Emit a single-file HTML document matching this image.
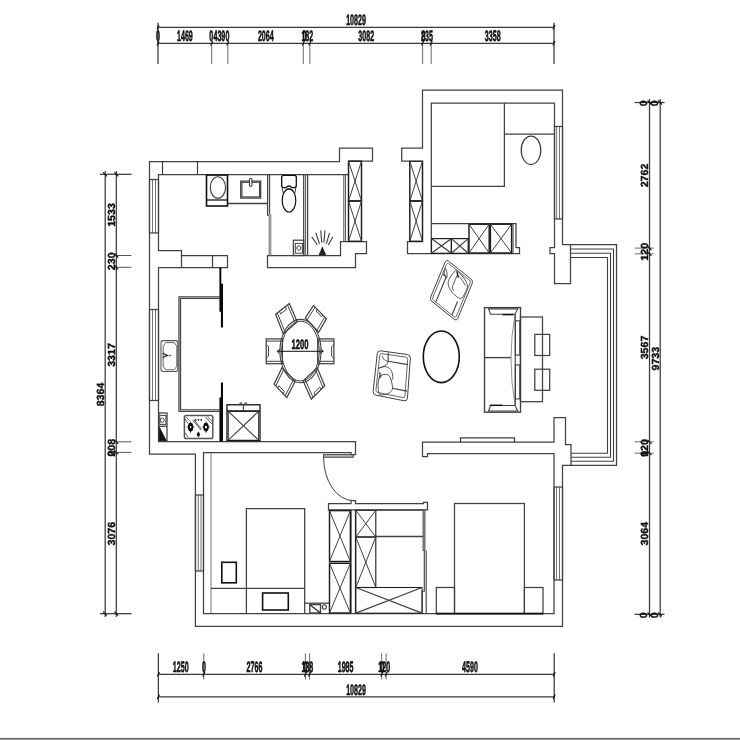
<!DOCTYPE html>
<html lang="zh">
<head>
<meta charset="utf-8">
<title>Floor plan</title>
<style>
html,body{margin:0;padding:0;background:#fff;}
body{width:740px;height:740px;overflow:hidden;position:relative;-webkit-font-smoothing:antialiased;}
svg{display:block;will-change:transform;filter:blur(0.35px);}
svg text{text-rendering:geometricPrecision;}
svg path, svg rect, svg ellipse{shape-rendering:geometricPrecision;}
.b1,.b2,.b3{position:absolute;left:0;width:740px;height:1px;}
.b1{top:737px;background:#ececec;}.b2{top:738px;background:#707070;}.b3{top:739px;background:#9a9a9a;}
</style>
</head>
<body>
<svg width="740" height="740" viewBox="0 0 740 740" font-family="'Liberation Sans', sans-serif" fill="#111" stroke-linecap="butt" stroke-linejoin="miter">
<rect x="0" y="0" width="740" height="740" fill="#ffffff" stroke="none"/>
<g fill="none">
<path d="M348.5 161 L372.5 161 L372.5 148 L339.5 148 L339.5 161.5 L149.5 161.5 L149.5 454 L195.4 454 L195.4 626.4 L562.5 626.4 L562.5 465.4 L616.5 465.4 L616.5 244.5 L562.5 244.5 L562.5 90 L422.5 90 L422.5 148 L401.7 148 L401.7 161 L409.5 161" fill="none" stroke="#404040" stroke-width="1.25"/>
<path d="M162.5 161.5 L162.5 174.5" stroke="#404040" stroke-width="1.25"/>
<path d="M197.5 161.5 L197.5 174.5" stroke="#404040" stroke-width="1.25"/>
<path d="M348.5 174.5 L158.5 174.5 L158.5 250.5 L181.5 250.5 L181.5 255.5 L227.5 255.5 L227.5 267.5 L158.5 267.5 L158.5 441.5 L355.5 441.5 L355.5 454.5 L351 454.5 L351 452.5 L203.5 452.5 L203.5 613.5 L554 613.5 L554 453.5 L427.5 453.5 L427.5 456.5 L422.5 456.5 L422.5 442 L554 442 L554 417.5 L565.5 417.5 L565.5 444.5 L571 444.5 L571 465.4" fill="none" stroke="#404040" stroke-width="1.25"/>
<path d="M181.5 255.5 L181.5 267.5" stroke="#404040" stroke-width="1.25"/>
<path d="M212.5 255.5 L212.5 267.5" stroke="#404040" stroke-width="1.25"/>
<path d="M149.5 179.5 L149.5 233" stroke="#404040" stroke-width="1.25"/>
<path d="M152.5 179.5 L152.5 233" stroke="#707070" stroke-width="1"/>
<path d="M155.5 179.5 L155.5 233" stroke="#707070" stroke-width="1"/>
<path d="M158.5 179.5 L158.5 233" stroke="#404040" stroke-width="1.25"/>
<path d="M149.5 179.5 L158.5 179.5" stroke="#404040" stroke-width="1.25"/>
<path d="M149.5 233 L158.5 233" stroke="#404040" stroke-width="1.25"/>
<path d="M149.5 309.5 L149.5 400.5" stroke="#404040" stroke-width="1.25"/>
<path d="M152.5 309.5 L152.5 400.5" stroke="#707070" stroke-width="1"/>
<path d="M155.5 309.5 L155.5 400.5" stroke="#707070" stroke-width="1"/>
<path d="M158.5 309.5 L158.5 400.5" stroke="#404040" stroke-width="1.25"/>
<path d="M149.5 309.5 L158.5 309.5" stroke="#404040" stroke-width="1.25"/>
<path d="M149.5 400.5 L158.5 400.5" stroke="#404040" stroke-width="1.25"/>
<path d="M195.5 495 L195.5 571" stroke="#404040" stroke-width="1.25"/>
<path d="M198.3 495 L198.3 571" stroke="#707070" stroke-width="1"/>
<path d="M201 495 L201 571" stroke="#707070" stroke-width="1"/>
<path d="M203.5 495 L203.5 571" stroke="#404040" stroke-width="1.25"/>
<path d="M195.5 495 L203.5 495" stroke="#404040" stroke-width="1.25"/>
<path d="M195.5 571 L203.5 571" stroke="#404040" stroke-width="1.25"/>
<path d="M211 452.5 L211 613.5" stroke="#666" stroke-width="0.9"/>
<path d="M267.5 255.5 L340.5 255.5 L340.5 241.5 L366.5 241.5 L366.5 253.5 L355.5 253.5 L355.5 267.5 L267.5 267.5 Z" fill="none" stroke="#404040" stroke-width="1.25"/>
<path d="M422.5 241.5 L407.5 241.5 L407.5 253.5 L519.5 253.5 L519.5 247.5 L516 247.5 L516 223.5 L431.5 223.5" fill="none" stroke="#404040" stroke-width="1.25"/>
<path d="M431.3 253.5 L431.3 103 L554.5 103 L554.5 247.5 L550 247.5 L550 253.5 L554.5 253.5 L554.5 283.5 L570.5 283.5 L570.5 244.5" fill="none" stroke="#404040" stroke-width="1.25"/>
<path d="M554.5 126.5 L554.5 219" stroke="#404040" stroke-width="1.25"/>
<path d="M556.7 126.5 L556.7 219" stroke="#707070" stroke-width="1"/>
<path d="M559.5 126.5 L559.5 219" stroke="#707070" stroke-width="1"/>
<path d="M562.5 126.5 L562.5 219" stroke="#404040" stroke-width="1.25"/>
<path d="M554.5 126.5 L562.5 126.5" stroke="#404040" stroke-width="1.25"/>
<path d="M554.5 219 L562.5 219" stroke="#404040" stroke-width="1.25"/>
<path d="M570.5 249 L613.5 249 L613.5 461.3 L571 461.3" fill="none" stroke="#404040" stroke-width="1.12"/>
<path d="M570.5 253.2 L610.5 253.2 L610.5 457.2 L571 457.2" fill="none" stroke="#404040" stroke-width="1.12"/>
<path d="M570.5 257.5 L607.5 257.5 L607.5 453.2 L571 453.2" fill="none" stroke="#404040" stroke-width="1.12"/>
<path d="M460.5 442 L460.5 437.8 L514.5 437.8 L514.5 442" fill="none" stroke="#404040" stroke-width="1.25"/>
<path d="M554 487 L554 580" stroke="#404040" stroke-width="1.25"/>
<path d="M556.6 487 L556.6 580" stroke="#707070" stroke-width="1"/>
<path d="M559.5 487 L559.5 580" stroke="#707070" stroke-width="1"/>
<path d="M562.5 487 L562.5 580" stroke="#404040" stroke-width="1.25"/>
<path d="M554 487 L562.5 487" stroke="#404040" stroke-width="1.25"/>
<path d="M554 580 L562.5 580" stroke="#404040" stroke-width="1.25"/>
<path d="M328.5 503.5 L351 503.5 L351 500.5 L355.5 500.5 L355.5 503.5 L423.5 503.5 L423.5 502.3 L427.5 502.3 L427.5 509.8 L328.5 509.8 Z" fill="none" stroke="#404040" stroke-width="1.25"/>
<path d="M351 509.8 L351 613.5" stroke="#404040" stroke-width="1.25"/>
<path d="M355.5 509.8 L355.5 613.5" stroke="#404040" stroke-width="1.25"/>
</g>
<rect x="348.5" y="161.2" width="13" height="39.8" fill="none" stroke="#1c1c1c" stroke-width="1.44"/>
<path d="M348.5 161.2 L361.5 201" stroke="#404040" stroke-width="1"/>
<path d="M348.5 201 L361.5 161.2" stroke="#404040" stroke-width="1"/>
<rect x="348.5" y="201" width="13" height="40.3" fill="none" stroke="#1c1c1c" stroke-width="1.44"/>
<path d="M348.5 201 L361.5 241.3" stroke="#404040" stroke-width="1"/>
<path d="M348.5 241.3 L361.5 201" stroke="#404040" stroke-width="1"/>
<rect x="409.8" y="161.2" width="12.7" height="39.8" fill="none" stroke="#1c1c1c" stroke-width="1.44"/>
<path d="M409.8 161.2 L422.5 201" stroke="#404040" stroke-width="1"/>
<path d="M409.8 201 L422.5 161.2" stroke="#404040" stroke-width="1"/>
<rect x="409.8" y="201" width="12.7" height="40.3" fill="none" stroke="#1c1c1c" stroke-width="1.44"/>
<path d="M409.8 201 L422.5 241.3" stroke="#404040" stroke-width="1"/>
<path d="M409.8 241.3 L422.5 201" stroke="#404040" stroke-width="1"/>
<path d="M343.6 174.5 L343.6 241.5" stroke="#666" stroke-width="0.9"/>
<path d="M345.3 174.5 L345.3 241.5" stroke="#404040" stroke-width="1.12"/>
<rect x="431.5" y="238.6" width="19.9" height="14.7" fill="none" stroke="#1c1c1c" stroke-width="1.17"/>
<path d="M431.5 238.6 L451.4 253.3" stroke="#404040" stroke-width="1.25"/>
<path d="M431.5 253.3 L451.4 238.6" stroke="#404040" stroke-width="1.25"/>
<rect x="451.4" y="238.6" width="16.8" height="14.7" fill="none" stroke="#1c1c1c" stroke-width="1.17"/>
<path d="M451.4 238.6 L468.2 253.3" stroke="#404040" stroke-width="1.25"/>
<path d="M451.4 253.3 L468.2 238.6" stroke="#404040" stroke-width="1.25"/>
<rect x="469" y="224.2" width="20.2" height="28.8" fill="none" stroke="#1c1c1c" stroke-width="1.44"/>
<path d="M469 224.2 L489.2 253" stroke="#404040" stroke-width="1"/>
<path d="M469 253 L489.2 224.2" stroke="#404040" stroke-width="1"/>
<rect x="490.4" y="224.2" width="21.2" height="28.8" fill="none" stroke="#1c1c1c" stroke-width="1.44"/>
<path d="M490.4 224.2 L511.6 253" stroke="#404040" stroke-width="1"/>
<path d="M490.4 253 L511.6 224.2" stroke="#404040" stroke-width="1"/>
<path d="M513 223.5 L513 253.5" stroke="#404040" stroke-width="1"/>
<rect x="329.5" y="510.6" width="20.9" height="50.9" fill="none" stroke="#1c1c1c" stroke-width="1.44"/>
<path d="M329.5 510.6 L350.4 561.5" stroke="#404040" stroke-width="1"/>
<path d="M329.5 561.5 L350.4 510.6" stroke="#404040" stroke-width="1"/>
<rect x="329.5" y="563.3" width="20.9" height="49.7" fill="none" stroke="#1c1c1c" stroke-width="1.44"/>
<path d="M329.5 563.3 L350.4 613" stroke="#404040" stroke-width="1"/>
<path d="M329.5 613 L350.4 563.3" stroke="#404040" stroke-width="1"/>
<rect x="355.8" y="510.3" width="20" height="26.7" fill="none" stroke="#1c1c1c" stroke-width="1.08"/>
<path d="M355.8 510.3 L375.8 537" stroke="#404040" stroke-width="1"/>
<path d="M355.8 537 L375.8 510.3" stroke="#404040" stroke-width="1"/>
<rect x="355.8" y="537" width="20" height="50.5" fill="none" stroke="#1c1c1c" stroke-width="1.08"/>
<path d="M355.8 537 L375.8 587.5" stroke="#404040" stroke-width="1"/>
<path d="M355.8 587.5 L375.8 537" stroke="#404040" stroke-width="1"/>
<rect x="355.8" y="587.5" width="66.2" height="25.7" fill="none" stroke="#1c1c1c" stroke-width="1.08"/>
<path d="M355.8 587.5 L422 613.2" stroke="#404040" stroke-width="1.25"/>
<path d="M355.8 613.2 L422 587.5" stroke="#404040" stroke-width="1.25"/>
<path d="M375.8 536.5 L423 536.5" stroke="#404040" stroke-width="1.5"/>
<path d="M375.8 510 L423 510" stroke="#404040" stroke-width="1.25"/>
<rect x="423" y="509.8" width="2" height="40.7" fill="#9a9a9a" stroke="#444" stroke-width="0.8"/>
<path d="M424.3 550.5 L424.3 591.2 L422.4 591.2 L422.4 613.3" fill="none" stroke="#404040" stroke-width="1.12"/>
<path d="M426.2 550.5 L426.2 613.3" fill="none" stroke="#404040" stroke-width="1.12"/>
<g fill="none">
<path d="M431.3 186.3 L504.4 186.3 L504.4 103" fill="none" stroke="#404040" stroke-width="1.25"/>
<path d="M504.4 134.2 L554.5 134.2" stroke="#404040" stroke-width="1.25"/>
<ellipse cx="531" cy="150.2" rx="9.8" ry="14.2" fill="none" stroke="#404040" stroke-width="1.25"/>
<rect x="454.5" y="503.5" width="69.9" height="110" fill="none" stroke="#404040" stroke-width="1.25"/>
<rect x="436.3" y="587.5" width="18.2" height="26" fill="none" stroke="#404040" stroke-width="1.25"/>
<rect x="524.4" y="587.5" width="18.6" height="26" fill="none" stroke="#404040" stroke-width="1.25"/>
<path d="M436 613.6 L543.3 613.6" stroke="#111" stroke-width="1.8"/>
<path d="M246.4 613.5 L246.4 508.6 L304.7 508.6 L304.7 613.5" fill="none" stroke="#404040" stroke-width="1.25"/>
<path d="M211 588.4 L304.7 588.4" stroke="#404040" stroke-width="1.25"/>
<rect x="221.8" y="562.3" width="14.5" height="20.5" fill="none" stroke="#111" stroke-width="1.6"/>
<rect x="262.6" y="593" width="25.7" height="17" fill="none" stroke="#111" stroke-width="1.6"/>
<path d="M304.7 603.2 L329.2 603.2" stroke="#404040" stroke-width="1.25"/>
<rect x="309.8" y="604.6" width="10.7" height="8.4" fill="none" stroke="#444" stroke-width="1.4"/>
<path d="M309.8 604.6 L320.5 613" stroke="#111" stroke-width="1.2"/>
<ellipse cx="324.4" cy="607" rx="2" ry="2.2" fill="none" stroke="#404040" stroke-width="1.12"/>
<rect x="323.6" y="454.7" width="29.6" height="2.5" fill="#d8d8d8" stroke="#404040" stroke-width="1.12"/>
<path d="M323.6 457.2 A29.6 43.4 0 0 0 353.2 500.6" stroke="#404040" stroke-width="1"/>
</g>
<g fill="none">
<rect x="206.5" y="175" width="21" height="31" fill="none" stroke="#111" stroke-width="1.6"/>
<path d="M206.5 200 L227.5 200" stroke="#111" stroke-width="1.3"/>
<ellipse cx="217.9" cy="187.5" rx="7.6" ry="10.8" fill="none" stroke="#404040" stroke-width="1.12"/>
<path d="M227.5 203.4 L267.6 203.4" stroke="#404040" stroke-width="1.5"/>
<rect x="240.7" y="181.1" width="20" height="17" fill="none" stroke="#404040" stroke-width="1.25"/>
<rect x="241.9" y="182.3" width="17.6" height="14.6" fill="none" stroke="#404040" stroke-width="1.12"/>
<rect x="249.5" y="178.2" width="2.4" height="8.3" fill="#fff" stroke="#404040" stroke-width="1.12" rx="1.2"/>
<path d="M267.6 174.5 L267.6 215 L269.2 215" fill="none" stroke="#404040" stroke-width="1.25"/>
<path d="M269.6 174.5 L269.6 214.2" stroke="#404040" stroke-width="1.12"/>
<path d="M269.2 215 L269.2 255.5" stroke="#666" stroke-width="1"/>
<path d="M270.8 214.2 L270.8 255.5" stroke="#777" stroke-width="1"/>
<path d="M283.7 175.3 L294.3 175.3 Q296.3 175.3 296.3 177.3 L296.3 185.6 Q296.3 187.7 294.3 187.7 L292 187.7 Q290.5 186 289 186 Q287.5 186 286 187.7 L283.7 187.7 Q281.7 187.7 281.7 185.6 L281.7 177.3 Q281.7 175.3 283.7 175.3 Z" fill="none" stroke="#111" stroke-width="1.3"/>
<path d="M282.2 187.6 L283.2 193.5" stroke="#404040" stroke-width="1"/>
<path d="M295.8 187.6 L294.8 193.5" stroke="#404040" stroke-width="1"/>
<ellipse cx="289" cy="200.4" rx="6.8" ry="11.6" fill="none" stroke="#111" stroke-width="1.2"/>
<path d="M286.2 190 Q289 188 291.8 190" fill="none" stroke="#111" stroke-width="1.2"/>
<path d="M303.7 174.5 L303.7 255.5" stroke="#404040" stroke-width="1.25"/>
<path d="M305.6 174.5 L305.6 255.5" stroke="#404040" stroke-width="0.88"/>
<path d="M307.6 174.5 L307.6 255.5" stroke="#404040" stroke-width="1.25"/>
<rect x="293.4" y="240.2" width="10.3" height="15.3" fill="none" stroke="#404040" stroke-width="1.25"/>
<rect x="295.3" y="243.4" width="7.1" height="9.8" fill="none" stroke="#404040" stroke-width="1"/>
<ellipse cx="298.8" cy="248" rx="2" ry="2.2" fill="none" stroke="#404040" stroke-width="1"/>
</g>
<path d="M311.8 236.9 L317.4 245" stroke="#404040" stroke-width="1.12"/>
<path d="M315.8 232.8 L319.5 243.9" stroke="#404040" stroke-width="1.12"/>
<path d="M320.7 230.4 L321.8 242.6" stroke="#404040" stroke-width="1.12"/>
<path d="M325 230.4 L323.9 242.6" stroke="#404040" stroke-width="1.12"/>
<path d="M329.6 232.8 L326.3 243.9" stroke="#404040" stroke-width="1.12"/>
<path d="M332.8 236.9 L328.3 245" stroke="#404040" stroke-width="1.12"/>
<path d="M322.4 247 L324.6 252.5 L320.2 252.5 Z" fill="#111" stroke="#111" stroke-width="0.6"/>
<path d="M319.6 252.3 L325.2 252.3 L326 255.2 L318.8 255.2 Z" fill="#222" stroke="none"/>
<g fill="none">
<path d="M219.5 296.8 L179 296.8 L179 411.3 L219.5 411.3" fill="none" stroke="#404040" stroke-width="1.25"/>
<path d="M219.5 298.5 L180.6 298.5 L180.6 409.7 L219.5 409.7" fill="none" stroke="#404040" stroke-width="1.12"/>
<rect x="161" y="340.6" width="16.8" height="30.9" fill="none" stroke="#555" stroke-width="1.1" rx="2.2"/>
<path d="M165.7 342.6 L174.3 342.6 L176.8 346.2 L176.8 366.2 L174.3 369.8 L165.7 369.8 L163.2 366.2 L163.2 346.2 Z" fill="none" stroke="#555" stroke-width="0.9"/>
<path d="M162.6 353.2 L167.6 355.4 L162.6 357.6" fill="none" stroke="#111" stroke-width="1.1"/>
<ellipse cx="170" cy="355.5" rx="0.6" ry="0.7" fill="#555" stroke="#555" stroke-width="0.7"/>
<rect x="184.4" y="415.5" width="28.4" height="23.1" fill="none" stroke="#555" stroke-width="1.5" rx="1.8"/>
</g>
<ellipse cx="190.6" cy="427.1" rx="2.7" ry="4.4" fill="#0a0a0a" stroke="none"/>
<path d="M190.6 420.3 L191.7 427.1 L190.6 433.9 L189.5 427.1 Z" fill="#0a0a0a" stroke="none"/>
<path d="M185.9 427.1 L190.6 426.1 L195.3 427.1 L190.6 428.1 Z" fill="#0a0a0a" stroke="none"/>
<ellipse cx="190.6" cy="427.1" rx="0.8" ry="1.1" fill="#fff" stroke="none"/>
<ellipse cx="206" cy="427.1" rx="2.7" ry="4.4" fill="#0a0a0a" stroke="none"/>
<path d="M206 420.3 L207.1 427.1 L206 433.9 L204.9 427.1 Z" fill="#0a0a0a" stroke="none"/>
<path d="M201.3 427.1 L206 426.1 L210.7 427.1 L206 428.1 Z" fill="#0a0a0a" stroke="none"/>
<ellipse cx="206" cy="427.1" rx="1.04" ry="1.43" fill="#fff" stroke="none"/>
<ellipse cx="198.4" cy="434.5" rx="1.4" ry="2.29" fill="#0a0a0a" stroke="none"/>
<path d="M198.4 430.96 L198.97 434.5 L198.4 438.04 L197.83 434.5 Z" fill="#0a0a0a" stroke="none"/>
<path d="M195.96 434.5 L198.4 433.98 L200.84 434.5 L198.4 435.02 Z" fill="#0a0a0a" stroke="none"/>
<path d="M184.9 418.6 L188.1 423.5" stroke="#333" stroke-width="0.8"/>
<path d="M186 417 L189.5 420.8" stroke="#333" stroke-width="0.8"/>
<path d="M184.9 432.7 L188.1 437" stroke="#333" stroke-width="0.8"/>
<path d="M193 420.3 L200.8 430" stroke="#333" stroke-width="0.8"/>
<path d="M194 419.7 L201.6 429.3" stroke="#333" stroke-width="0.8"/>
<path d="M205.4 417 L211.9 424" stroke="#333" stroke-width="0.8"/>
<path d="M207.6 417 L212.4 421.6" stroke="#333" stroke-width="0.8"/>
<ellipse cx="195.7" cy="419.9" rx="0.5" ry="0.6" fill="#111" stroke="#111" stroke-width="0.7"/>
<ellipse cx="198.4" cy="419.9" rx="0.5" ry="0.6" fill="#111" stroke="#111" stroke-width="0.7"/>
<ellipse cx="201.2" cy="419.9" rx="0.5" ry="0.6" fill="#111" stroke="#111" stroke-width="0.7"/>
<g fill="none">
<rect x="158.8" y="413" width="8.2" height="28" fill="none" stroke="#404040" stroke-width="1.25"/>
<rect x="159.8" y="415.4" width="6.1" height="9" fill="none" stroke="#404040" stroke-width="1"/>
<ellipse cx="162.3" cy="420.2" rx="1.9" ry="2.2" fill="none" stroke="#404040" stroke-width="1"/>
<path d="M158.8 426.3 L167 426.3" stroke="#404040" stroke-width="1.25"/>
</g>
<path d="M159.4 427.4 L159.4 440.4 L166.2 440.4 Z" fill="#111" stroke="#111" stroke-width="0.8"/>
<g fill="#0a0a0a" stroke="none">
<rect x="219.4" y="267.5" width="1.9" height="44.3"/>
<rect x="220.9" y="283.7" width="2.1" height="43.8"/>
<rect x="220.9" y="382.5" width="2.1" height="59"/>
<rect x="219.4" y="397.5" width="1.9" height="44"/>
</g>
<g fill="none">
<rect x="227" y="404.8" width="33" height="35.8" fill="none" stroke="#111" stroke-width="1.3"/>
<path d="M227 411 L260 411" stroke="#111" stroke-width="1.3"/>
<path d="M243.4 404.8 L243.4 411" stroke="#404040" stroke-width="1.12"/>
<rect x="228.3" y="411.4" width="30.3" height="28.8" fill="none" stroke="#1c1c1c" stroke-width="0.81"/>
<path d="M228.3 411.4 L258.6 440.2" stroke="#404040" stroke-width="1.12"/>
<path d="M228.3 440.2 L258.6 411.4" stroke="#404040" stroke-width="1.12"/>
<path d="M240 404.8 L240 402.9 L241.6 402.9 L241.6 404.8" fill="none" stroke="#404040" stroke-width="1"/>
<path d="M244.9 404.8 L244.9 402.9 L246.5 402.9 L246.5 404.8" fill="none" stroke="#404040" stroke-width="1"/>
</g>
<g fill="none">
<rect x="266.2" y="338.9" width="16.2" height="24.8" fill="none" stroke="#404040" stroke-width="1.25"/>
<path d="M266.2 341.1 L282.4 341.1" stroke="#404040" stroke-width="1"/>
<path d="M266.2 361.3 L282.4 361.3" stroke="#404040" stroke-width="1"/>
<path d="M266.2 344.5 L268.5 346.5 L268.5 356.2 L266.2 358.2" fill="none" stroke="#404040" stroke-width="1"/>
<rect x="317.7" y="338.9" width="16.2" height="24.8" fill="none" stroke="#404040" stroke-width="1.25"/>
<path d="M317.7 341.1 L333.9 341.1" stroke="#404040" stroke-width="1"/>
<path d="M317.7 361.3 L333.9 361.3" stroke="#404040" stroke-width="1"/>
<path d="M333.9 344.5 L331.6 346.5 L331.6 356.2 L333.9 358.2" fill="none" stroke="#404040" stroke-width="1"/>
<path d="M275.6 314.3 L289.3 303.6 L297.2 321.8 L283.3 333.9 Z" fill="none" stroke="#404040" stroke-width="1.25"/>
<path d="M277.38 312.91 L285.11 332.33" fill="none" stroke="#404040" stroke-width="1"/>
<path d="M287.52 304.99 L295.39 323.37" fill="none" stroke="#404040" stroke-width="1"/>
<path d="M279.44 311.3 L280.68 313.86 L286.41 309.33 L285.46 306.6" fill="none" stroke="#404040" stroke-width="1"/>
<path d="M313.5 305.4 L326.4 318.8 L318.7 332.2 L305.3 318 Z" fill="none" stroke="#404040" stroke-width="1.25"/>
<path d="M315.18 307.14 L307.04 319.85" fill="none" stroke="#404040" stroke-width="1"/>
<path d="M324.72 317.06 L316.96 330.35" fill="none" stroke="#404040" stroke-width="1"/>
<path d="M317.11 309.15 L316.13 311.11 L321.54 316.73 L322.79 315.05" fill="none" stroke="#404040" stroke-width="1"/>
<path d="M286.8 397.6 L274.1 384.2 L281.9 367.8 L295.2 381.2 Z" fill="none" stroke="#404040" stroke-width="1.25"/>
<path d="M285.15 395.86 L293.47 379.46" fill="none" stroke="#404040" stroke-width="1"/>
<path d="M275.75 385.94 L283.63 369.54" fill="none" stroke="#404040" stroke-width="1"/>
<path d="M283.24 393.85 L284.25 391.4 L278.92 385.81 L277.66 387.95" fill="none" stroke="#404040" stroke-width="1"/>
<path d="M324.7 385.7 L311.3 399.1 L303.1 380.9 L317.2 367.8 Z" fill="none" stroke="#404040" stroke-width="1.25"/>
<path d="M322.96 387.44 L315.37 369.5" fill="none" stroke="#404040" stroke-width="1"/>
<path d="M313.04 397.36 L304.93 379.2" fill="none" stroke="#404040" stroke-width="1"/>
<path d="M320.95 389.45 L319.71 387.08 L314.09 392.67 L315.05 395.35" fill="none" stroke="#404040" stroke-width="1"/>
<ellipse cx="300.5" cy="351.1" rx="20.6" ry="31.7" fill="none" stroke="#404040" stroke-width="1.12"/>
<ellipse cx="300.5" cy="351.1" rx="18.8" ry="29.9" fill="none" stroke="#404040" stroke-width="1"/>
<path d="M277.2 351.3 L323.2 351.3" stroke="#111" stroke-width="1"/>
</g>
<path d="M277.2 351.3 l3 -2.2 M277.2 351.3 l2.2 2.6 M323.2 351.3 l-3 2.2 M323.2 351.3 l-2.2 -2.6" stroke="#111" stroke-width="0.9" fill="none"/>
<text transform="translate(299.9 348.8) skewX(0) scale(0.56 1)" font-size="13.6" text-anchor="middle" font-weight="bold" stroke="#111" stroke-width="0.6" vector-effect="non-scaling-stroke" paint-order="stroke">1200</text>
<g fill="none">
<rect x="484.5" y="307.6" width="36" height="104.6" fill="none" stroke="#404040" stroke-width="1.38"/>
<path d="M488.5 308.9 L517.7 308.9 L515 314.3 L490.6 314.3 Z" fill="none" stroke="#404040" stroke-width="1.12"/>
<path d="M488.5 411 L517.7 411 L515 405.5 L490.6 405.5 Z" fill="none" stroke="#404040" stroke-width="1.12"/>
<path d="M502.5 314.6 L513.5 314.6" stroke="#111" stroke-width="1.5"/>
<path d="M489.8 405.3 L502.5 405.3" stroke="#111" stroke-width="1.5"/>
<path d="M484.5 357.6 L511.2 357.6" stroke="#404040" stroke-width="1.38"/>
<path d="M515 314.3 Q507 357.6 515 405.5" stroke="#777" stroke-width="0.8"/>
<path d="M515.3 314.3 L515.3 405.5" stroke="#404040" stroke-width="1.12"/>
<rect x="515.3" y="320.8" width="4.5" height="34.3" fill="none" stroke="#404040" stroke-width="1.12"/>
<rect x="515.3" y="364.9" width="4.5" height="34" fill="none" stroke="#404040" stroke-width="1.12"/>
<rect x="520.5" y="317" width="22" height="84.7" fill="none" stroke="#404040" stroke-width="1.25"/>
<rect x="534.8" y="334.4" width="14.9" height="21.1" fill="none" stroke="#404040" stroke-width="1.25"/>
<rect x="534.8" y="369.2" width="14.9" height="21.1" fill="none" stroke="#404040" stroke-width="1.25"/>
<ellipse cx="441.3" cy="356.8" rx="18" ry="25.8" fill="none" stroke="#111" stroke-width="1.6"/>
</g>
<g fill="none" stroke-linejoin="round">
<path d="M445.15 262.07 Q446.3 259.3 448.64 261.17 L470.96 279.03 Q473.3 280.9 472.15 283.67 L457.75 318.43 Q456.6 321.2 454.26 319.33 L431.94 301.47 Q429.6 299.6 430.75 296.83 Z" fill="none" stroke="#404040" stroke-width="1"/>
<path d="M446.54 264.37 Q447.3 262.52 448.87 263.77 L469.23 280.06 Q470.79 281.31 470.03 283.16 L456.36 316.13 Q455.6 317.98 454.03 316.73 L433.67 300.44 Q432.11 299.19 432.87 297.34 Z" fill="none" stroke="#404040" stroke-width="0.8"/>
<path d="M442.54 274 L446.19 276.92 L435.75 302.11" fill="none" stroke="#404040" stroke-width="1.12"/>
<path d="M457.55 301.57 L451.95 315.07" fill="none" stroke="#404040" stroke-width="1.12"/>
</g>
<path d="M455.7 270.5 C454.43 271.58 450.93 275.75 449.7 278.1 C448.47 280.45 447.85 282.17 448.3 284.6 C448.75 287.03 450.37 290.37 452.4 292.7 C454.43 295.03 458.42 298.52 460.5 298.6 C462.58 298.68 463.75 295.35 464.9 293.2 C466.05 291.05 467.68 288.4 467.4 285.7 C467.12 283 464.88 279.35 463.2 277 C461.52 274.65 458.55 272.68 457.3 271.6 C456.05 270.52 456.97 269.42 455.7 270.5 Z" fill="none" stroke="#404040" stroke-width="0.9"/>
<path d="M457.3 274.9 C456.85 275.98 455.42 279.42 454.6 281.4 C453.78 283.38 452.58 285.18 452.4 286.8 C452.22 288.42 453.32 290.38 453.5 291.1" fill="none" stroke="#404040" stroke-width="0.9"/>
<path d="M457.8 275.4 C458.43 276.03 460.33 277.48 461.6 279.2 C462.87 280.92 464.77 284.62 465.4 285.7" fill="none" stroke="#404040" stroke-width="0.9"/>
<path d="M445.4 268.4 C445.85 268.4 446.82 271.58 447 273.2 C447.18 274.82 446.95 278.1 446.5 278.1 C446.05 278.1 444.48 274.82 444.3 273.2 C444.12 271.58 444.95 268.4 445.4 268.4 Z" fill="none" stroke="#404040" stroke-width="0.9"/>
<path d="M456.8 271.5 L458.4 277.5" stroke="#111" stroke-width="1.2"/>
<g fill="none" stroke-linejoin="round">
<path d="M377.25 353.58 Q377.6 350.4 380.77 350.84 L407.43 354.56 Q410.6 355 410.37 358.19 L407.43 398.21 Q407.2 401.4 404.06 400.77 L375.94 395.13 Q372.8 394.5 373.15 391.32 Z" fill="none" stroke="#404040" stroke-width="1"/>
<path d="M379.78 355.39 Q380 353.4 381.98 353.68 L405.82 357.12 Q407.8 357.4 407.65 359.39 L404.95 396.01 Q404.8 398 402.84 397.6 L377.66 392.4 Q375.7 392 375.92 390.01 Z" fill="none" stroke="#404040" stroke-width="0.8"/>
<path d="M388.2 352.6 L388.2 361.3 L408 364.6" fill="none" stroke="#404040" stroke-width="1.12"/>
<path d="M392.4 388.2 L407.1 391.1" fill="none" stroke="#404040" stroke-width="1.12"/>
</g>
<path d="M382.5 356 C383.5 360 385.5 361 387.8 361.2 C388.5 364 386 365.5 378.3 368.5" fill="none" stroke="#404040" stroke-width="0.9"/>
<path d="M378.3 368.5 C384 365.5 389 366 391.5 371 C393 375 393.3 378 392.4 379.5" fill="none" stroke="#404040" stroke-width="0.9"/>
<path d="M379.8 376.5 C383 373.5 388.5 373.5 390.3 377.5 C392 382 392.8 387 392.4 389.5 C390 394 384 395.5 379.5 394.5 C377.5 390 377.5 381 379.8 376.5 Z" fill="none" stroke="#404040" stroke-width="0.9"/>
<path d="M379.8 372.5 L381.4 376 L379.6 378.5 Z" fill="none" stroke="#404040" stroke-width="0.9"/>
<g fill="none">
<path d="M158 27.3 L554 27.3" stroke="#3a3a3a" stroke-width="1.25"/>
<path d="M158 43.3 L554 43.3" stroke="#3a3a3a" stroke-width="1.25"/>
<path d="M158 22.5 L158 64" stroke="#3a3a3a" stroke-width="1.25"/>
<path d="M554 22.5 L554 64" stroke="#3a3a3a" stroke-width="1.25"/>
<path d="M211.7 43.3 L211.7 64" stroke="#6a6a6a" stroke-width="1"/>
<path d="M227.8 43.3 L227.8 64" stroke="#6a6a6a" stroke-width="1"/>
<path d="M303.3 43.3 L303.3 64" stroke="#6a6a6a" stroke-width="1"/>
<path d="M309.9 43.3 L309.9 64" stroke="#6a6a6a" stroke-width="1"/>
<path d="M422.6 43.3 L422.6 64" stroke="#6a6a6a" stroke-width="1"/>
<path d="M431.2 43.3 L431.2 64" stroke="#6a6a6a" stroke-width="1"/>
<path d="M157 45.5 L159 41.1" stroke="#111" stroke-width="1.2"/>
<path d="M210.7 45.5 L212.7 41.1" stroke="#111" stroke-width="1.2"/>
<path d="M226.8 45.5 L228.8 41.1" stroke="#111" stroke-width="1.2"/>
<path d="M302.3 45.5 L304.3 41.1" stroke="#111" stroke-width="1.2"/>
<path d="M308.9 45.5 L310.9 41.1" stroke="#111" stroke-width="1.2"/>
<path d="M421.6 45.5 L423.6 41.1" stroke="#111" stroke-width="1.2"/>
<path d="M430.2 45.5 L432.2 41.1" stroke="#111" stroke-width="1.2"/>
<path d="M553 45.5 L555 41.1" stroke="#111" stroke-width="1.2"/>
<path d="M157 29.5 L159 25.1" stroke="#111" stroke-width="1.2"/>
<path d="M553 29.5 L555 25.1" stroke="#111" stroke-width="1.2"/>
<path d="M158.4 674.3 L554.2 674.3" stroke="#3a3a3a" stroke-width="1.25"/>
<path d="M158.4 696.8 L554.2 696.8" stroke="#3a3a3a" stroke-width="1.25"/>
<path d="M158.4 653.3 L158.4 702.5" stroke="#3a3a3a" stroke-width="1.25"/>
<path d="M554.2 653.3 L554.2 702.5" stroke="#3a3a3a" stroke-width="1.25"/>
<path d="M203.8 653.3 L203.8 679.5" stroke="#6a6a6a" stroke-width="1"/>
<path d="M305.4 653.3 L305.4 679.5" stroke="#6a6a6a" stroke-width="1"/>
<path d="M309.6 653.3 L309.6 679.5" stroke="#6a6a6a" stroke-width="1"/>
<path d="M381.7 653.3 L381.7 679.5" stroke="#6a6a6a" stroke-width="1"/>
<path d="M386.1 653.3 L386.1 679.5" stroke="#6a6a6a" stroke-width="1"/>
<path d="M157.4 676.5 L159.4 672.1" stroke="#111" stroke-width="1.2"/>
<path d="M202.8 676.5 L204.8 672.1" stroke="#111" stroke-width="1.2"/>
<path d="M304.4 676.5 L306.4 672.1" stroke="#111" stroke-width="1.2"/>
<path d="M308.6 676.5 L310.6 672.1" stroke="#111" stroke-width="1.2"/>
<path d="M380.8 676.5 L382.8 672.1" stroke="#111" stroke-width="1.2"/>
<path d="M385.2 676.5 L387.2 672.1" stroke="#111" stroke-width="1.2"/>
<path d="M553.2 676.5 L555.2 672.1" stroke="#111" stroke-width="1.2"/>
<path d="M157.4 699 L159.4 694.6" stroke="#111" stroke-width="1.2"/>
<path d="M553.2 699 L555.2 694.6" stroke="#111" stroke-width="1.2"/>
<path d="M105.2 171 L105.2 617" stroke="#3a3a3a" stroke-width="1.25"/>
<path d="M116.3 171 L116.3 617" stroke="#3a3a3a" stroke-width="1.25"/>
<path d="M100 174.3 L131.5 174.3" stroke="#3a3a3a" stroke-width="1.25"/>
<path d="M100 613.7 L131.5 613.7" stroke="#3a3a3a" stroke-width="1.25"/>
<path d="M116.3 255.5 L131.3 255.5" stroke="#555" stroke-width="1"/>
<path d="M116.3 267.3 L131.3 267.3" stroke="#555" stroke-width="1"/>
<path d="M116.3 441.8 L131.3 441.8" stroke="#555" stroke-width="1"/>
<path d="M116.3 452.4 L131.3 452.4" stroke="#555" stroke-width="1"/>
<path d="M114.3 172.3 L118.3 176.3" stroke="#111" stroke-width="1.1"/>
<path d="M114.3 253.5 L118.3 257.5" stroke="#111" stroke-width="1.1"/>
<path d="M114.3 265.3 L118.3 269.3" stroke="#111" stroke-width="1.1"/>
<path d="M114.3 439.8 L118.3 443.8" stroke="#111" stroke-width="1.1"/>
<path d="M114.3 450.4 L118.3 454.4" stroke="#111" stroke-width="1.1"/>
<path d="M114.3 611.7 L118.3 615.7" stroke="#111" stroke-width="1.1"/>
<path d="M103 172.3 L107 176.3" stroke="#111" stroke-width="1.1"/>
<path d="M103 611.7 L107 615.7" stroke="#111" stroke-width="1.1"/>
<path d="M649.5 99 L649.5 617.5" stroke="#3a3a3a" stroke-width="1.25"/>
<path d="M660.2 99 L660.2 617.5" stroke="#3a3a3a" stroke-width="1.25"/>
<path d="M634.5 102.5 L664.5 102.5" stroke="#3a3a3a" stroke-width="1.25"/>
<path d="M634.5 614.3 L664.5 614.3" stroke="#3a3a3a" stroke-width="1.25"/>
<path d="M634.8 248.1 L653.7 248.1" stroke="#6a6a6a" stroke-width="1"/>
<path d="M634.8 253.8 L653.7 253.8" stroke="#6a6a6a" stroke-width="1"/>
<path d="M634.8 441.8 L653.7 441.8" stroke="#6a6a6a" stroke-width="1"/>
<path d="M634.8 453.2 L653.7 453.2" stroke="#6a6a6a" stroke-width="1"/>
<path d="M647.5 100.5 L651.5 104.5" stroke="#111" stroke-width="1.1"/>
<path d="M647.5 246.1 L651.5 250.1" stroke="#111" stroke-width="1.1"/>
<path d="M647.5 251.8 L651.5 255.8" stroke="#111" stroke-width="1.1"/>
<path d="M647.5 439.8 L651.5 443.8" stroke="#111" stroke-width="1.1"/>
<path d="M647.5 451.2 L651.5 455.2" stroke="#111" stroke-width="1.1"/>
<path d="M647.5 612.3 L651.5 616.3" stroke="#111" stroke-width="1.1"/>
<path d="M658 100.5 L662 104.5" stroke="#111" stroke-width="1.1"/>
<path d="M658 612.3 L662 616.3" stroke="#111" stroke-width="1.1"/>
</g>
<text transform="translate(356 24.8) skewX(0) scale(0.47 1)" font-size="15.1" text-anchor="middle" font-weight="bold" stroke="#111" stroke-width="0.6" vector-effect="non-scaling-stroke" paint-order="stroke">10829</text>
<text transform="translate(158 40.9) skewX(0) scale(0.47 1)" font-size="15.1" text-anchor="middle" font-weight="bold" stroke="#111" stroke-width="0.6" vector-effect="non-scaling-stroke" paint-order="stroke">0</text>
<text transform="translate(184.9 40.9) skewX(0) scale(0.47 1)" font-size="15.1" text-anchor="middle" font-weight="bold" stroke="#111" stroke-width="0.6" vector-effect="non-scaling-stroke" paint-order="stroke">1469</text>
<text transform="translate(211.2 40.9) skewX(0) scale(0.47 1)" font-size="15.1" text-anchor="middle" font-weight="bold" stroke="#111" stroke-width="0.6" vector-effect="non-scaling-stroke" paint-order="stroke">0</text>
<text transform="translate(219.4 40.9) skewX(0) scale(0.47 1)" font-size="15.1" text-anchor="middle" font-weight="bold" stroke="#111" stroke-width="0.6" vector-effect="non-scaling-stroke" paint-order="stroke">439</text>
<text transform="translate(227.4 40.9) skewX(0) scale(0.47 1)" font-size="15.1" text-anchor="middle" font-weight="bold" stroke="#111" stroke-width="0.6" vector-effect="non-scaling-stroke" paint-order="stroke">0</text>
<text transform="translate(265.8 40.9) skewX(0) scale(0.47 1)" font-size="15.1" text-anchor="middle" font-weight="bold" stroke="#111" stroke-width="0.6" vector-effect="non-scaling-stroke" paint-order="stroke">2064</text>
<text transform="translate(307.3 40.9) skewX(0) scale(0.47 1)" font-size="15.1" text-anchor="middle" font-weight="bold" stroke="#111" stroke-width="0.6" vector-effect="non-scaling-stroke" paint-order="stroke">182</text>
<text transform="translate(304.6 40.9) skewX(0) scale(0.47 1)" font-size="15.1" text-anchor="middle" font-weight="bold" stroke="#111" stroke-width="0.6" vector-effect="non-scaling-stroke" paint-order="stroke">0</text>
<text transform="translate(366.2 40.9) skewX(0) scale(0.47 1)" font-size="15.1" text-anchor="middle" font-weight="bold" stroke="#111" stroke-width="0.6" vector-effect="non-scaling-stroke" paint-order="stroke">3082</text>
<text transform="translate(427 40.9) skewX(0) scale(0.47 1)" font-size="15.1" text-anchor="middle" font-weight="bold" stroke="#111" stroke-width="0.6" vector-effect="non-scaling-stroke" paint-order="stroke">235</text>
<text transform="translate(423.4 40.9) skewX(0) scale(0.47 1)" font-size="15.1" text-anchor="middle" font-weight="bold" stroke="#111" stroke-width="0.6" vector-effect="non-scaling-stroke" paint-order="stroke">0</text>
<text transform="translate(492.7 40.9) skewX(0) scale(0.47 1)" font-size="15.1" text-anchor="middle" font-weight="bold" stroke="#111" stroke-width="0.6" vector-effect="non-scaling-stroke" paint-order="stroke">3358</text>
<text transform="translate(180.7 672) skewX(0) scale(0.47 1)" font-size="15.1" text-anchor="middle" font-weight="bold" stroke="#111" stroke-width="0.6" vector-effect="non-scaling-stroke" paint-order="stroke">1250</text>
<text transform="translate(204 672) skewX(0) scale(0.47 1)" font-size="15.1" text-anchor="middle" font-weight="bold" stroke="#111" stroke-width="0.6" vector-effect="non-scaling-stroke" paint-order="stroke">0</text>
<text transform="translate(254.5 672) skewX(0) scale(0.47 1)" font-size="15.1" text-anchor="middle" font-weight="bold" stroke="#111" stroke-width="0.6" vector-effect="non-scaling-stroke" paint-order="stroke">2766</text>
<text transform="translate(307.4 672) skewX(0) scale(0.47 1)" font-size="15.1" text-anchor="middle" font-weight="bold" stroke="#111" stroke-width="0.6" vector-effect="non-scaling-stroke" paint-order="stroke">138</text>
<text transform="translate(305.4 672) skewX(0) scale(0.47 1)" font-size="15.1" text-anchor="middle" font-weight="bold" stroke="#111" stroke-width="0.6" vector-effect="non-scaling-stroke" paint-order="stroke">0</text>
<text transform="translate(345.6 672) skewX(0) scale(0.47 1)" font-size="15.1" text-anchor="middle" font-weight="bold" stroke="#111" stroke-width="0.6" vector-effect="non-scaling-stroke" paint-order="stroke">1985</text>
<text transform="translate(384.2 672) skewX(0) scale(0.47 1)" font-size="15.1" text-anchor="middle" font-weight="bold" stroke="#111" stroke-width="0.6" vector-effect="non-scaling-stroke" paint-order="stroke">120</text>
<text transform="translate(382.2 672) skewX(0) scale(0.47 1)" font-size="15.1" text-anchor="middle" font-weight="bold" stroke="#111" stroke-width="0.6" vector-effect="non-scaling-stroke" paint-order="stroke">0</text>
<text transform="translate(470 672) skewX(0) scale(0.47 1)" font-size="15.1" text-anchor="middle" font-weight="bold" stroke="#111" stroke-width="0.6" vector-effect="non-scaling-stroke" paint-order="stroke">4590</text>
<text transform="translate(356 694.8) skewX(0) scale(0.47 1)" font-size="15.1" text-anchor="middle" font-weight="bold" stroke="#111" stroke-width="0.6" vector-effect="non-scaling-stroke" paint-order="stroke">10829</text>
<text transform="translate(115.2 215) rotate(-90) scale(1.03 1)" font-size="10.3" text-anchor="middle" font-weight="bold" stroke="#111" stroke-width="0.4" paint-order="stroke">1533</text>
<text transform="translate(115.2 261.3) rotate(-90) scale(1.03 1)" font-size="10.3" text-anchor="middle" font-weight="bold" stroke="#111" stroke-width="0.4" paint-order="stroke">230</text>
<text transform="translate(115.2 355) rotate(-90) scale(1.03 1)" font-size="10.3" text-anchor="middle" font-weight="bold" stroke="#111" stroke-width="0.4" paint-order="stroke">3317</text>
<text transform="translate(115.2 533.7) rotate(-90) scale(1.03 1)" font-size="10.3" text-anchor="middle" font-weight="bold" stroke="#111" stroke-width="0.4" paint-order="stroke">3076</text>
<text transform="translate(115.2 447.7) rotate(-90) scale(1.03 1)" font-size="10.3" text-anchor="middle" font-weight="bold" stroke="#111" stroke-width="0.4" paint-order="stroke">208</text>
<text transform="translate(115.2 453.5) rotate(-90) scale(1.03 1)" font-size="10.3" text-anchor="middle" font-weight="bold" stroke="#111" stroke-width="0.4" paint-order="stroke">0</text>
<text transform="translate(103.8 394.5) rotate(-90) scale(1.03 1)" font-size="10.3" text-anchor="middle" font-weight="bold" stroke="#111" stroke-width="0.4" paint-order="stroke">8364</text>
<text transform="translate(648.3 175.5) rotate(-90) scale(1.03 1)" font-size="10.3" text-anchor="middle" font-weight="bold" stroke="#111" stroke-width="0.4" paint-order="stroke">2762</text>
<text transform="translate(648.3 347.5) rotate(-90) scale(1.03 1)" font-size="10.3" text-anchor="middle" font-weight="bold" stroke="#111" stroke-width="0.4" paint-order="stroke">3567</text>
<text transform="translate(648.3 533.7) rotate(-90) scale(1.03 1)" font-size="10.3" text-anchor="middle" font-weight="bold" stroke="#111" stroke-width="0.4" paint-order="stroke">3064</text>
<text transform="translate(647.8 251.8) rotate(-90) scale(1.03 1)" font-size="10.3" text-anchor="middle" font-weight="bold" stroke="#111" stroke-width="0.4" paint-order="stroke">120</text>
<text transform="translate(647.8 448) rotate(-90) scale(1.03 1)" font-size="10.3" text-anchor="middle" font-weight="bold" stroke="#111" stroke-width="0.4" paint-order="stroke">120</text>
<text transform="translate(647.8 453.8) rotate(-90) scale(1.03 1)" font-size="10.3" text-anchor="middle" font-weight="bold" stroke="#111" stroke-width="0.4" paint-order="stroke">0</text>
<text transform="translate(658.9 358.7) rotate(-90) scale(1.03 1)" font-size="10.3" text-anchor="middle" font-weight="bold" stroke="#111" stroke-width="0.4" paint-order="stroke">9733</text>
<text transform="translate(647.3 103.4) rotate(-90) scale(1.03 1)" font-size="10.3" text-anchor="middle" font-weight="bold" stroke="#111" stroke-width="0.4" paint-order="stroke">0</text>
<text transform="translate(647.3 615.2) rotate(-90) scale(1.03 1)" font-size="10.3" text-anchor="middle" font-weight="bold" stroke="#111" stroke-width="0.4" paint-order="stroke">0</text>
<text transform="translate(658.3 103.4) rotate(-90) scale(1.03 1)" font-size="10.3" text-anchor="middle" font-weight="bold" stroke="#111" stroke-width="0.4" paint-order="stroke">0</text>
<text transform="translate(658.3 615.2) rotate(-90) scale(1.03 1)" font-size="10.3" text-anchor="middle" font-weight="bold" stroke="#111" stroke-width="0.4" paint-order="stroke">0</text>
</svg>
<div class="b1"></div><div class="b2"></div><div class="b3"></div>
</body>
</html>
